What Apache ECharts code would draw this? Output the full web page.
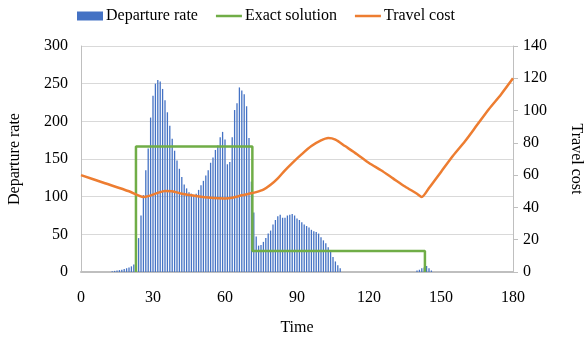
<!DOCTYPE html>
<html>
<head>
<meta charset="utf-8">
<script src="https://cdn.jsdelivr.net/npm/echarts@6/dist/echarts.min.js"></script>
<style>
  html, body { margin: 0; padding: 0; background: #fff; }
  #chart { width: 588px; height: 344px; }
</style>
</head>
<body>
<div id="chart"></div>
<script>
// Departure rate per minute (veh/min), simulated
const departTimes = [
  13, 14, 15, 16, 17, 18, 19, 20, 21, 22,
  23, 24, 25, 26, 27, 28, 29, 30, 31, 32,
  33, 34, 35, 36, 37, 38, 39, 40, 41, 42,
  43, 44, 45, 46, 47, 48, 49, 50, 51, 52,
  53, 54, 55, 56, 57, 58, 59, 60, 61, 62,
  63, 64, 65, 66, 67, 68, 69, 70, 71, 72,
  73, 74, 75, 76, 77, 78, 79, 80, 81, 82,
  83, 84, 85, 86, 87, 88, 89, 90, 91, 92,
  93, 94, 95, 96, 97, 98, 99, 100, 101, 102,
  103, 104, 105, 106, 107, 108,
  140, 141, 142, 143, 144, 145, 146
];
const departRates = [
  1, 1.5, 2, 2.5, 3, 4, 5, 6, 7.5, 10,
  20, 45, 75, 102, 135, 164, 205, 234, 250, 255,
  253, 243, 228, 212, 194, 177, 161, 148, 137, 126,
  116, 111, 106, 104, 101, 104, 109, 115, 121, 128,
  135, 145, 152, 162, 168, 179, 186, 176, 143, 146,
  179, 215, 224, 245, 241, 236, 220, 178, 120, 79,
  47, 35, 36, 40, 45, 51, 55, 63, 69, 74,
  76, 72, 72, 75, 76, 77, 75, 71, 69, 66,
  63, 61, 59, 56, 54, 53, 51, 46, 42, 38,
  33, 27, 20, 14, 9, 5,
  2, 3, 5, 6, 8, 5, 2
];

// Exact (analytical) departure rate: piecewise constant
const exactTimes = [22.9, 22.9, 71.4, 71.4, 143.3, 143.3];
const exactRates = [0, 166.7, 166.7, 27.8, 27.8, 0];

// Travel cost experienced by departure time
const costTimes = [0, 10, 20, 26, 28, 32, 35, 38, 42, 46, 50, 55, 60, 63, 67, 70, 73, 76, 79, 82,
  85, 88, 92, 96, 100, 103, 106, 110, 115, 120, 125, 130, 135, 140, 142, 145, 150, 155, 160,
  165, 170, 175, 180];
const costValues = [60, 55, 50, 46.5, 47, 49, 50.2, 50, 48.5, 47.5, 46.6, 45.8, 45.6, 46, 47.5, 48.5,
  49.5, 51, 54, 58, 63, 67.5, 73, 78, 81.5, 83, 82, 78, 73, 67.5, 63, 58, 53, 48.5, 46.5,
  52, 62, 72, 81, 91, 101, 110, 120];

const xTicks = [0, 30, 60, 90, 120, 150, 180];
const leftTicks = [0, 50, 100, 150, 200, 250, 300];
const rightTicks = [0, 20, 40, 60, 80, 100, 120, 140];

const zip = (a, b) => a.map((v, i) => [v, b[i]]);

const FONT = '"Liberation Serif", "Times New Roman", serif';
const GREY = '#bfbfbf';
const LINE_ICON = 'path://M0,0H26V2.5H0Z';

const chart = echarts.init(document.getElementById('chart'), null, { renderer: 'canvas' });

chart.setOption({
  animation: false,
  backgroundColor: '#ffffff',
  textStyle: { fontFamily: FONT },
  legend: {
    top: 3,
    left: 72,
    itemWidth: 26,
    itemHeight: 9,
    itemGap: 18,
    textStyle: { fontFamily: FONT, fontSize: 16, color: '#000', padding: [0, 0, 0, -2] },
    data: [
      { name: 'Departure rate', icon: 'rect' },
      { name: 'Exact solution', icon: LINE_ICON },
      { name: 'Travel cost', icon: LINE_ICON }
    ]
  },
  grid: { left: 81, right: 75, top: 46, bottom: 72, containLabel: false, outerBoundsMode: 'none' },
  xAxis: {
    type: 'value',
    min: xTicks[0],
    max: xTicks[xTicks.length - 1],
    interval: 30,
    name: 'Time',
    nameLocation: 'middle',
    nameGap: 48,
    nameTextStyle: { fontFamily: FONT, fontSize: 16, color: '#000' },
    axisLine: { show: true, lineStyle: { color: GREY, width: 2 } },
    axisTick: { show: false },
    axisLabel: { fontFamily: FONT, fontSize: 16, color: '#000', margin: 18 },
    splitLine: { show: false }
  },
  yAxis: [
    {
      type: 'value',
      min: leftTicks[0],
      max: leftTicks[leftTicks.length - 1],
      interval: 50,
      name: 'Departure rate',
      nameLocation: 'middle',
      nameGap: 58,
      nameRotate: 90,
      nameTextStyle: { fontFamily: FONT, fontSize: 16, color: '#000' },
      axisLine: { show: true, lineStyle: { color: GREY, width: 1 } },
      axisTick: { show: false },
      axisLabel: { fontFamily: FONT, fontSize: 16, color: '#000', margin: 13 },
      splitLine: { show: true, lineStyle: { color: '#d9d9d9', width: 1 } }
    },
    {
      type: 'value',
      position: 'right',
      min: rightTicks[0],
      max: rightTicks[rightTicks.length - 1],
      interval: 20,
      name: 'Travel cost',
      nameLocation: 'middle',
      nameGap: 55,
      nameRotate: -90,
      nameTextStyle: { fontFamily: FONT, fontSize: 16, color: '#000' },
      axisLine: { show: true, lineStyle: { color: GREY, width: 1 } },
      axisTick: { show: true, length: 5, lineStyle: { color: GREY } },
      axisLabel: { fontFamily: FONT, fontSize: 16, color: '#000', margin: 10 },
      splitLine: { show: false }
    }
  ],
  series: [
    {
      name: 'Departure rate',
      type: 'bar',
      xAxisIndex: 0,
      yAxisIndex: 0,
      barWidth: 1.3,
      itemStyle: { color: '#4472c4' },
      data: zip(departTimes, departRates),
      z: 2
    },
    {
      name: 'Exact solution',
      type: 'line',
      yAxisIndex: 0,
      symbol: 'none',
      lineStyle: { color: '#70ad47', width: 2.5 },
      itemStyle: { color: '#70ad47' },
      data: zip(exactTimes, exactRates),
      z: 3
    },
    {
      name: 'Travel cost',
      type: 'line',
      yAxisIndex: 1,
      symbol: 'none',
      smooth: 0.25,
      lineStyle: { color: '#ed7d31', width: 2.5 },
      itemStyle: { color: '#ed7d31' },
      data: zip(costTimes, costValues),
      z: 4
    }
  ]
});
</script>
</body>
</html>
